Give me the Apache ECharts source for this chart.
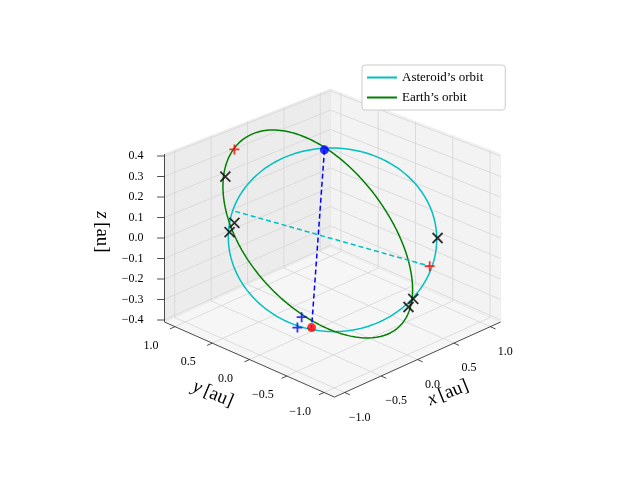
<!DOCTYPE html>
<html><head><meta charset="utf-8">
<script src="https://cdn.jsdelivr.net/npm/echarts@6/dist/echarts.min.js"></script>
<style>html,body{margin:0;padding:0;background:#fff}#c{width:640px;height:480px}</style>
</head><body><div id="c"></div>
<script>
// ---- data ----
const xTicks = [-1.0, -0.5, 0.0, 0.5, 1.0];
const yTicks = [-1.0, -0.5, 0.0, 0.5, 1.0];
const zTicks = [-0.4, -0.3, -0.2, -0.1, 0.0, 0.1, 0.2, 0.3, 0.4];
// orbit parameters: [centerX, centerY, radius, zSlopeCos, zSlopeSin]
const asteroidOrbit = [0.0, 0.0, 1.0, 0.167, 0.167];
const earthOrbit = [-0.10, 0.10, 0.91, -0.689, -0.29];
const blueDot = [[0.646, 0.739, 0.231]];
const redDot = [[0.565, 0.832, -0.671]];
const redPlus = [[0.441, -0.873, -0.072], [-0.962, 0.376, 0.512]];
const bluePlus = [[-0.817, -0.384, -0.200], [-0.923, -0.431, -0.226]];
const blackX = [[0.713, -0.713, 0.0], [-0.652, 0.744, 0.015], [-0.014, -1.033, -0.175],
                [-0.799, 0.657, 0.320], [-0.442, 0.884, 0.008], [0.605, -0.492, -0.315]];
const cyanDash = [[-0.451, 0.863, 0.069], [0.441, -0.873, -0.072]];
const blueDash = [[0.646, 0.739, 0.231], [0.565, 0.832, -0.671]];

// ---- projection (view from the (-x,-y) corner) ----
const L = 1.14, ZL = 0.41;   // axis limits
function P(p){ const x=p[0]/L, y=p[1]/L, d=x+y;
  return [332.5 + 83*x - 85*y, 238 - 35*x - 35*y - 205*p[2]*(1-0.03*d)]; }
function orbitPts(o){
  const pts=[];
  for(let i=0;i<=240;i++){const t=i/240*2*Math.PI, c=Math.cos(t), s=Math.sin(t);
    pts.push(P([o[0]+o[2]*c, o[1]+o[2]*s, o[2]*(o[3]*c+o[4]*s)]));}
  return pts;
}
const X0=-L,X1=L,Y0=-L,Y1=L,Z0=-ZL,Z1=ZL;
const panes=[
  {pts:[[X0,Y1,Z0],[X1,Y1,Z0],[X1,Y1,Z1],[X0,Y1,Z1]], fill:'#ececec'},
  {pts:[[X1,Y0,Z0],[X1,Y1,Z0],[X1,Y1,Z1],[X1,Y0,Z1]], fill:'#f3f3f3'},
  {pts:[[X0,Y0,Z0],[X1,Y0,Z0],[X1,Y1,Z0],[X0,Y1,Z0]], fill:'#f6f6f6'}
];
const gridSegs=[];
xTicks.forEach(x=>{gridSegs.push([[x,Y0,Z0],[x,Y1,Z0]]);gridSegs.push([[x,Y1,Z0],[x,Y1,Z1]]);});
yTicks.forEach(y=>{gridSegs.push([[X0,y,Z0],[X1,y,Z0]]);gridSegs.push([[X1,y,Z0],[X1,y,Z1]]);});
zTicks.forEach(z=>{gridSegs.push([[X0,Y1,z],[X1,Y1,z]]);gridSegs.push([[X1,Y0,z],[X1,Y1,z]]);});
const axisSegs=[[[X0,Y0,Z0],[X1,Y0,Z0]],[[X0,Y0,Z0],[X0,Y1,Z0]],[[X0,Y1,Z0],[X0,Y1,Z1]]];

const serif='"Liberation Serif","DejaVu Serif",serif';
const series=[];
series.push({type:'custom',silent:true,z:1,data:panes.map((p,i)=>i),
  renderItem:(params,api)=>{const p=panes[params.dataIndex];
    return {type:'polygon',shape:{points:p.pts.map(q=>api.coord(P(q)))},style:{fill:p.fill,stroke:'#e4e4e4',lineWidth:0.5}};}});
function segSeries(segs,color,width,type,zz){
  segs.forEach(s=>series.push({type:'line',silent:true,z:zz,showSymbol:false,data:s.map(P),
    lineStyle:{color:color,width:width,type:type}}));
}
segSeries(gridSegs,'#d6d6d6',0.8,'solid',2);
segSeries(axisSegs,'#222',0.8,'solid',3);
const tickSegs=[];
xTicks.forEach(x=>tickSegs.push([[x,Y0,Z0],[x,Y0-0.07,Z0]]));
yTicks.forEach(y=>tickSegs.push([[X0,y,Z0],[X0-0.07,y,Z0]]));
zTicks.forEach(z=>tickSegs.push([[X0,Y1,z],[X0-0.05,Y1+0.05,z]]));
segSeries(tickSegs,'#222',0.8,'solid',3);

series.push({name:'Asteroid’s orbit',type:'line',z:5,showSymbol:false,data:orbitPts(asteroidOrbit),lineStyle:{color:'#00bfbf',width:1.5},itemStyle:{color:'#00bfbf'}});
series.push({name:'Earth’s orbit',type:'line',z:5,showSymbol:false,data:orbitPts(earthOrbit),lineStyle:{color:'#008000',width:1.5},itemStyle:{color:'#008000'}});
series.push({type:'line',z:6,showSymbol:false,data:cyanDash.map(P),lineStyle:{color:'#00bfbf',width:1.5,type:[5,3]}});
series.push({type:'line',z:6,showSymbol:false,data:blueDash.map(P),lineStyle:{color:'#0000ff',width:1.5,type:[5,3]}});
const plusPath='path://M5,0L5,10M0,5L10,5';
const xPath='path://M0,0L10,10M10,0L0,10';
function markers(pts,symbol,size,color,lineStyle){
  series.push({type:'scatter',z:8,silent:true,data:pts.map(P),symbol:symbol,symbolSize:size,
    itemStyle:lineStyle?{color:'none',borderColor:color,borderWidth:1.8}:{color:color}});
}
markers(blackX,xPath,10,'#000',true);
markers(redPlus,plusPath,10,'#ff0000',true);
markers(bluePlus,plusPath,10,'#0000ff',true);
markers(blueDot,'circle',9,'#0000ff',false);
markers(redDot,'circle',9,'#ff0000',false);

const texts=[];
const tf='12px '+serif;
xTicks.forEach(x=>{const q=P([x,Y0,Z0]);texts.push({type:'text',x:q[0]+15,y:q[1]+25,style:{text:x.toFixed(1).replace('-','−'),font:tf,fill:'#000',align:'center',verticalAlign:'middle'}});});
yTicks.forEach(y=>{const q=P([X0,y,Z0]);texts.push({type:'text',x:q[0]-24,y:q[1]+19,style:{text:y.toFixed(1).replace('-','−'),font:tf,fill:'#000',align:'center',verticalAlign:'middle'}});});
zTicks.forEach(z=>{const q=P([X0,Y1,z]);texts.push({type:'text',x:q[0]-21,y:q[1],style:{text:z.toFixed(1).replace('-','−'),font:tf,fill:'#000',align:'right',verticalAlign:'middle'}});});
const rich={i:{font:'italic 19px '+serif},n:{font:'19px '+serif}};
texts.push({type:'text',x:448,y:393,rotation:0.38,style:{rich:rich,text:'{i|x} {n|[au]}',fill:'#000',align:'center',verticalAlign:'middle'}});
texts.push({type:'text',x:213,y:394,rotation:-0.4,style:{rich:rich,text:'{i|y} {n|[au]}',fill:'#000',align:'center',verticalAlign:'middle'}});
texts.push({type:'text',x:102,y:232,rotation:-Math.PI/2,style:{rich:rich,text:'{i|z} {n|[au]}',fill:'#000',align:'center',verticalAlign:'middle'}});

const chart=echarts.init(document.getElementById('c'));
chart.setOption({
  animation:false,
  grid:{left:0,right:0,top:0,bottom:0},
  xAxis:{type:'value',min:0,max:640,show:false},
  yAxis:{type:'value',min:0,max:480,inverse:true,show:false},
  legend:{data:['Asteroid’s orbit','Earth’s orbit'],orient:'vertical',left:362,top:65,
    backgroundColor:'#ffffff',borderColor:'#cccccc',borderWidth:1,borderRadius:3,padding:[6,22,6,5],itemGap:7,
    itemWidth:30,itemHeight:2,icon:'rect',
    textStyle:{fontFamily:'Liberation Serif',fontSize:13,color:'#000'}},
  series:series,
  graphic:texts
});
</script></body></html>
